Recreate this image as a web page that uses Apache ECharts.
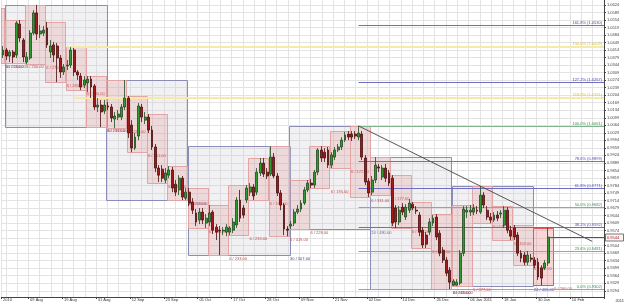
<!DOCTYPE html>
<html><head><meta charset="utf-8">
<script src="https://cdn.jsdelivr.net/npm/echarts@6/dist/echarts.min.js"></script>
<style>html,body{margin:0;padding:0;background:#fff}#c{width:625px;height:303px}</style>
</head><body><div id="c"></div>
<script>
// ---- data (USD/CHF-like daily candles, Sun-Fri slots) ----
const slotCount = 178;
const opens = [
1.0391,1.0414,1.0386,1.0405,1.0391,1.0535,1.0461,1.0358,1.0377,1.0493,
1.0587,1.0489,1.0493,1.0517,1.0405,1.0438,1.0433,1.0377,1.0312,1.0340,
1.0344,1.0414,1.0312,1.0293,1.0251,1.0261,1.0279,1.0247,1.0149,1.0158,
1.0130,1.0154,1.0149,1.0093,1.0102,1.0102,1.0149,1.0191,1.0065,0.9958,
1.0014,1.0149,1.0088,1.0102,1.0042,0.9963,0.9865,0.9860,0.9809,0.9832,
0.9856,0.9790,0.9763,0.9818,0.9725,0.9753,0.9707,0.9656,0.9623,0.9660,
0.9609,0.9614,0.9660,0.9590,0.9576,0.9572,0.9567,0.9567,0.9576,0.9600,
0.9716,0.9679,0.9716,0.9753,0.9777,0.9753,0.9842,0.9888,0.9846,0.9837,
0.9916,0.9828,0.9749,0.9693,0.9581,0.9595,0.9609,0.9660,0.9674,0.9702,
0.9763,0.9795,0.9786,0.9846,0.9949,0.9939,0.9949,0.9879,0.9916,0.9949,
0.9963,0.9995,1.0023,1.0023,1.0023,1.0009,1.0023,0.9912,0.9804,0.9753,
0.9809,0.9870,0.9823,0.9865,0.9842,0.9818,0.9679,0.9614,0.9683,0.9637,
0.9669,0.9697,0.9669,0.9646,0.9576,0.9553,0.9567,0.9609,0.9637,0.9562,
0.9483,0.9437,0.9390,0.9320,0.9320,0.9330,0.9469,0.9660,0.9660,0.9660,
0.9669,0.9660,0.9739,0.9669,0.9637,0.9623,0.9646,0.9651,0.9600,0.9669,
0.9576,0.9586,0.9553,0.9469,0.9460,0.9427,0.9446,0.9437,0.9427,0.9400,
0.9400,0.9423];
const closes = [
1.0414,1.0386,1.0405,1.0382,1.0540,1.0470,1.0382,1.0382,1.0493,1.0587,
1.0489,1.0503,1.0507,1.0438,1.0433,1.0391,1.0377,1.0312,1.0335,1.0344,
1.0414,1.0312,1.0298,1.0242,1.0275,1.0279,1.0242,1.0149,1.0158,1.0126,
1.0158,1.0149,1.0098,1.0107,1.0116,1.0149,1.0191,1.0028,0.9958,1.0009,
1.0154,1.0102,1.0102,1.0042,0.9963,0.9865,0.9832,0.9818,0.9842,0.9856,
0.9772,0.9753,0.9818,0.9730,0.9753,0.9702,0.9669,0.9614,0.9660,0.9623,
0.9632,0.9656,0.9576,0.9567,0.9572,0.9576,0.9590,0.9586,0.9614,0.9716,
0.9632,0.9646,0.9772,0.9777,0.9735,0.9846,0.9888,0.9837,0.9828,0.9916,
0.9828,0.9749,0.9693,0.9581,0.9576,0.9604,0.9660,0.9674,0.9702,0.9763,
0.9795,0.9786,0.9846,0.9949,0.9912,0.9912,0.9879,0.9926,0.9949,0.9963,
0.9995,1.0019,1.0009,1.0009,1.0014,1.0028,0.9916,0.9800,0.9749,0.9809,
0.9879,0.9865,0.9865,0.9818,0.9795,0.9609,0.9614,0.9669,0.9660,0.9683,
0.9702,0.9679,0.9665,0.9567,0.9507,0.9511,0.9614,0.9632,0.9544,0.9469,
0.9437,0.9376,0.9334,0.9339,0.9334,0.9469,0.9674,0.9669,0.9669,0.9679,
0.9665,0.9739,0.9693,0.9637,0.9623,0.9646,0.9632,0.9656,0.9669,0.9576,
0.9548,0.9544,0.9469,0.9446,0.9427,0.9460,0.9441,0.9413,0.9358,0.9353,
0.9423,0.9544];
const highs = [
1.0433,1.0424,1.0414,1.0414,1.0549,1.0554,1.0470,1.0405,1.0507,1.0600,
1.0624,1.0531,1.0526,1.0545,1.0461,1.0452,1.0447,1.0391,1.0349,1.0368,
1.0428,1.0424,1.0321,1.0307,1.0293,1.0293,1.0293,1.0256,1.0191,1.0182,
1.0182,1.0172,1.0163,1.0126,1.0135,1.0163,1.0275,1.0200,1.0088,1.0028,
1.0168,1.0163,1.0126,1.0116,1.0061,0.9977,0.9879,0.9879,0.9865,0.9874,
0.9870,0.9809,0.9832,0.9828,0.9772,0.9772,0.9725,0.9674,0.9679,0.9679,
0.9651,0.9693,0.9669,0.9604,0.9595,0.9590,0.9604,0.9595,0.9632,0.9730,
0.9763,0.9693,0.9786,0.9795,0.9790,0.9865,0.9912,0.9912,0.9865,0.9967,
0.9935,0.9842,0.9763,0.9702,0.9595,0.9618,0.9674,0.9693,0.9716,0.9777,
0.9809,0.9814,0.9856,0.9958,0.9967,0.9958,0.9963,0.9939,0.9963,0.9977,
1.0009,1.0033,1.0037,1.0037,1.0037,1.0061,1.0037,0.9926,0.9818,0.9828,
0.9916,0.9884,0.9879,0.9884,0.9856,0.9832,0.9693,0.9688,0.9702,0.9697,
0.9721,0.9707,0.9688,0.9660,0.9590,0.9567,0.9632,0.9646,0.9651,0.9576,
0.9497,0.9451,0.9404,0.9348,0.9348,0.9483,0.9688,0.9688,0.9693,0.9697,
0.9688,0.9781,0.9753,0.9688,0.9656,0.9660,0.9665,0.9669,0.9688,0.9683,
0.9595,0.9600,0.9567,0.9483,0.9474,0.9479,0.9465,0.9451,0.9446,0.9413,
0.9437,0.9586];
const lows = [
1.0377,1.0368,1.0358,1.0354,1.0377,1.0452,1.0358,1.0349,1.0368,1.0484,
1.0461,1.0470,1.0479,1.0424,1.0377,1.0358,1.0265,1.0284,1.0298,1.0321,
1.0331,1.0293,1.0275,1.0228,1.0237,1.0219,1.0191,1.0135,1.0126,1.0056,
1.0116,1.0135,1.0079,1.0051,1.0088,1.0088,1.0135,1.0005,0.9939,0.9949,
0.9995,1.0079,1.0070,1.0028,0.9949,0.9846,0.9800,0.9800,0.9795,0.9818,
0.9753,0.9735,0.9739,0.9716,0.9716,0.9688,0.9651,0.9595,0.9604,0.9604,
0.9586,0.9595,0.9558,0.9530,0.9460,0.9553,0.9548,0.9553,0.9562,0.9586,
0.9614,0.9632,0.9702,0.9735,0.9716,0.9739,0.9828,0.9823,0.9814,0.9828,
0.9818,0.9735,0.9669,0.9553,0.9548,0.9581,0.9595,0.9651,0.9660,0.9693,
0.9753,0.9772,0.9772,0.9832,0.9893,0.9893,0.9865,0.9865,0.9902,0.9939,
0.9949,0.9986,0.9995,0.9991,1.0000,0.9995,0.9902,0.9786,0.9730,0.9739,
0.9795,0.9846,0.9809,0.9800,0.9781,0.9595,0.9586,0.9600,0.9646,0.9623,
0.9656,0.9669,0.9651,0.9548,0.9493,0.9493,0.9553,0.9595,0.9530,0.9455,
0.9423,0.9362,0.9302,0.9316,0.9318,0.9320,0.9455,0.9632,0.9642,0.9646,
0.9651,0.9651,0.9679,0.9623,0.9609,0.9614,0.9618,0.9632,0.9586,0.9562,
0.9530,0.9530,0.9455,0.9427,0.9413,0.9413,0.9427,0.9400,0.9344,0.9320,
0.9390,0.9409];

// date tick labels (every 10 slots starting at slot 8)
const xTickFirstSlot = 8;
const xTickLabels = ["09 Aug","19 Aug","31 Aug","12 Sep","23 Sep","05 Oct","17 Oct","28 Oct","09 Nov","21 Nov","02 Dec","14 Dec","26 Dec","06 Jan 2011","18 Jan","30 Jan","10 Feb"];
const yTickValues = [0.9294,0.9329,0.9364,0.9399,0.9434,0.9469,0.9504,0.9539,0.9574,0.9609,0.9644,0.9679,0.9714,0.9749,0.9784,0.9819,0.9854,0.9889,0.9924,0.9959,0.9994,1.0029,1.0064,1.0099,1.0134,1.0169,1.0204,1.0239,1.0274,1.0309,1.0344,1.0379,1.0414,1.0449,1.0484,1.0519,1.0554,1.0589,1.0624];

// period boxes: start slots (weeks of 6 bars, months of weeks)
const weekStarts = [-5,1,7,13,19,25,31,37,43,49,55,61,67,73,79,85,91,97,103,109,115,121,127,133,139,145,151,157,163];
const monthStarts = [-29,1,31,55,85,109,133,157];
const preChartHigh = 1.0610, preChartLow = 1.0354;

// fibonacci retracement/extension from Dec low to Nov high
const fibHighSlot = 105, fibLowSlot = 132;
const fibLevels = [0, 23.6, 38.2, 50, 61.8, 78.6, 100, 127.2, 161.8];
const fibGreen = [0, 23.6, 50, 100];
const yellowStartSlots = [19, 21];
const yellowValues = [1.0428, 1.0191];
const yellowLabels = ["150.0% (1.0428)", "118.0% (1.0191)"];
// trend line (from Nov high across Jan high)
const trendLine = [[105, 1.0061], [174, 0.9524]];

// ---- build ----
const FONT = '4px "Liberation Sans", Arial, sans-serif';
const cats = Array.from({length: slotCount}, (_, i) => String(i));
const candleData = opens.map((o, i) => [o, closes[i], lows[i], highs[i]]);
const nBars = opens.length;

function rangeOf(s, e) {
  let hi = -Infinity, lo = Infinity;
  for (let i = Math.max(0, s); i < Math.min(nBars, e); i++) { hi = Math.max(hi, highs[i]); lo = Math.min(lo, lows[i]); }
  if (s < 0) { hi = Math.max(hi, preChartHigh); lo = Math.min(lo, preChartLow); }
  return [hi, lo];
}
function boxes(starts) {
  const out = [];
  for (let k = 0; k < starts.length - 1; k++) {
    const s = starts[k], e = starts[k + 1];
    if (s >= nBars) break;
    const [hi, lo] = rangeOf(s, e);
    out.push([Math.max(0, s), e, hi, lo, (e - s) + ' / ' + ((hi - lo) * 10000).toFixed(2), k]);
  }
  return out;
}
const weekBoxes = boxes(weekStarts);
const monthBoxes = boxes(monthStarts);
const lastWeekIdx = weekBoxes.length - 1;

function boxRender(kind) {
  return function (params, api) {
    const s = api.value(0), e = api.value(1), hi = api.value(2), lo = api.value(3);
    const w = api.size([1, 0])[0];
    const p1 = api.coord([s, hi]), p2 = api.coord([s, lo]);
    const x1 = p1[0] - w / 2, x2 = x1 + (e - s) * w;
    const isLast = kind === 'week' && params.dataIndex === lastWeekIdx;
    const fill = kind === 'week' ? (isLast ? 'rgba(225,110,110,0.28)' : 'rgba(225,130,130,0.22)') : 'rgba(200,200,208,0.25)';
    const stroke = kind === 'week' ? (isLast ? '#d85a5a' : '#e2a4a4') : '#8c8cb8';
    const txtCol = kind === 'week' ? '#c44a4a' : '#4848a0';
    return { type: 'group', children: [
      { type: 'rect', shape: { x: Math.round(x1) + 0.5, y: Math.round(p1[1]) + 0.5, width: Math.round(x2 - x1), height: Math.round(p2[1] - p1[1]) },
        style: { fill: fill, stroke: stroke, lineWidth: 1 } },
      { type: 'text', x: x2 + 1, y: p2[1] + 2,
        style: { text: api.value(4), fill: txtCol, font: FONT, align: 'left', verticalAlign: 'top' } }
    ] };
  };
}

const fibHigh = highs[fibHighSlot], fibLow = lows[fibLowSlot];
const fibData = fibLevels.map(l => [fibHighSlot, fibLow + (fibHigh - fibLow) * l / 100, l]);
function fibRender(params, api) {
  const v = api.value(1), l = api.value(2);
  const p = api.coord([api.value(0), v]);
  const xe = params.coordSys.x + params.coordSys.width;
  const col = fibGreen.indexOf(l) >= 0 ? '#7fb48c' : '#6e6ec4';
  const tcol = fibGreen.indexOf(l) >= 0 ? '#3f8a55' : '#4a4ab0';
  const y = Math.round(p[1]) + 0.5;
  return { type: 'group', children: [
    { type: 'line', shape: { x1: p[0], y1: y, x2: xe, y2: y }, style: { stroke: col, lineWidth: 1 } },
    { type: 'text', x: xe - 2, y: y - 0.5, style: { text: l.toFixed(1) + '% (' + v.toFixed(4) + ')', fill: tcol, font: FONT, align: 'right', verticalAlign: 'bottom' } }
  ] };
}
const yellowData = yellowValues.map((v, i) => [yellowStartSlots[i], v, i]);
function yellowRender(params, api) {
  const v = api.value(1);
  const p = api.coord([api.value(0), v]);
  const xe = params.coordSys.x + params.coordSys.width;
  const y = Math.round(p[1]);
  return { type: 'group', children: [
    { type: 'line', shape: { x1: p[0], y1: y, x2: xe, y2: y }, style: { stroke: '#f5eaa6', lineWidth: 2 } },
    { type: 'text', x: xe - 2, y: y - 1, style: { text: yellowLabels[api.value(2)], fill: '#d6c250', font: FONT, align: 'right', verticalAlign: 'bottom' } }
  ] };
}
const lastClose = closes[nBars - 1];
function priceRender(params, api) {
  const p = api.coord([api.value(0), api.value(1)]);
  const xe = params.coordSys.x + params.coordSys.width;
  const y = Math.round(p[1]) + 0.5;
  return { type: 'group', children: [
    { type: 'line', shape: { x1: p[0] + 2, y1: y, x2: xe, y2: y }, style: { stroke: '#555', lineWidth: 1 } },
    { type: 'rect', shape: { x: xe + 1.5, y: y - 3.5, width: 18, height: 7 }, style: { fill: '#fff4f4', stroke: '#555', lineWidth: 0.8 } },
    { type: 'text', x: xe + 3, y: y, style: { text: api.value(1).toFixed(4), fill: '#a02020', font: FONT, align: 'left', verticalAlign: 'middle' } }
  ] };
}

const tickShow = i => i === 0 || (i >= xTickFirstSlot && (i - xTickFirstSlot) % 10 === 0 && (i - xTickFirstSlot) / 10 < xTickLabels.length);

const chart = echarts.init(document.getElementById('c'), null, { renderer: 'canvas' });
chart.setOption({
  animation: false,
  backgroundColor: '#ffffff',
  grid: { left: 0, right: 21, top: 0, bottom: 6 },
  xAxis: [{
    type: 'category', data: cats, boundaryGap: true,
    axisLine: { lineStyle: { color: '#444', width: 1 } },
    axisTick: { show: true, interval: tickShow, length: 2, lineStyle: { color: '#444' } },
    axisLabel: { interval: tickShow, align: 'left', margin: 1, fontSize: 4, fontFamily: 'Liberation Sans', color: '#333',
      formatter: (v, i) => i === 0 ? '2010' : xTickLabels[(i - xTickFirstSlot) / 10] },
    splitLine: { show: false }
  }, {
    type: 'value', inverse: true, min: 0, max: slotCount, interval: 10 / 3, position: 'top',
    axisLine: { show: false }, axisTick: { show: false }, axisLabel: { show: false },
    splitLine: { show: true, lineStyle: { color: '#e3e3e3', width: 1 } }
  }],
  yAxis: {
    type: 'value', position: 'right', min: 0.9265, max: 1.0647, scale: true,
    axisLine: { show: true, lineStyle: { color: '#444' } },
    axisTick: { show: true, length: 2, customValues: yTickValues, lineStyle: { color: '#444' } },
    axisLabel: { customValues: yTickValues, margin: 3, fontSize: 4, fontFamily: 'Liberation Sans', color: '#444', formatter: v => v.toFixed(4) },
    splitLine: { show: true, lineStyle: { color: '#e3e3e3', width: 1 } }
  },
  graphic: [{ type: 'text', right: 1, bottom: 0, style: { text: '2011', font: FONT, fill: '#333' } }],
  series: [
    { type: 'custom', name: 'months', xAxisIndex: 0, data: monthBoxes, renderItem: boxRender('month'), encode: { x: [0, 1], y: [2, 3] }, z: 1, clip: true, silent: true },
    { type: 'custom', name: 'weeks', xAxisIndex: 0, data: weekBoxes, renderItem: boxRender('week'), encode: { x: [0, 1], y: [2, 3] }, z: 2, clip: true, silent: true },
    { type: 'custom', name: 'yellow', xAxisIndex: 0, data: yellowData, renderItem: yellowRender, encode: { x: 0, y: 1 }, z: 3, silent: true },
    { type: 'custom', name: 'fib', xAxisIndex: 0, data: fibData, renderItem: fibRender, encode: { x: 0, y: 1 }, z: 3, silent: true },
    { type: 'line', name: 'trend', xAxisIndex: 0, data: trendLine, symbol: 'none', lineStyle: { color: '#555', width: 1 }, z: 4, silent: true },
    { type: 'candlestick', name: 'price', xAxisIndex: 0, data: candleData, barWidth: 2.4, z: 5,
      itemStyle: { color: '#2f9a2f', color0: '#a01c1c', borderColor: '#1e4a1e', borderColor0: '#4a0c0c', borderWidth: 0.8 } },
    { type: 'custom', name: 'last', xAxisIndex: 0, data: [[nBars - 1, lastClose]], renderItem: priceRender, encode: { x: 0, y: 1 }, z: 6, clip: false, silent: true }
  ]
});
</script>
</body></html>
